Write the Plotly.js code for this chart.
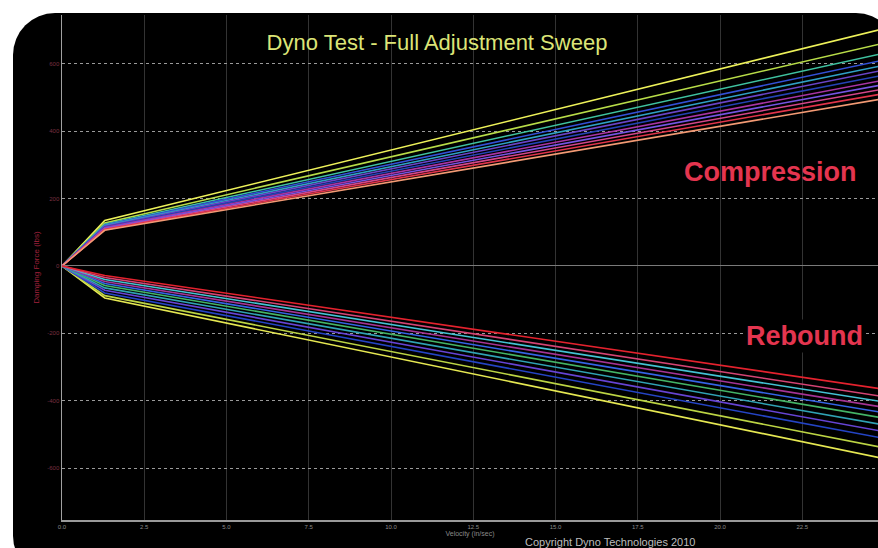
<!DOCTYPE html>
<html>
<head>
<meta charset="utf-8">
<script src="https://cdn.plot.ly/plotly-3.0.1.min.js"></script>
<style>
html,body{margin:0;padding:0;background:#ffffff;width:878px;height:548px;overflow:hidden;}
#frame{position:absolute;left:13px;top:13px;width:885px;height:565px;background:#000;border-radius:42px;}
#chart{position:absolute;left:0;top:0;width:878px;height:548px;}
</style>
</head>
<body>
<div id="frame"></div>
<div id="chart"></div>
<script>
// velocity points (in/sec): origin, knee, far end
const velocity = [0, 1.3, 25];
const xTickVals = [0, 2.5, 5, 7.5, 10, 12.5, 15, 17.5, 20, 22.5];
const xTickText = ["0.0", "2.5", "5.0", "7.5", "10.0", "12.5", "15.0", "17.5", "20.0", "22.5"];
const yTickVals = [-600, -400, -200, 0, 200, 400, 600];
const yTickText = ["-600", "-400", "-200", "0", "200", "400", "600"];

// compression sweep (force, lbs)
const compNames = ["C1","C2","C3","C4","C5","C6","C7","C8","C9","C10","C11","C12"];
const compForces = [
  [0, 135, 705],
  [0, 128, 662],
  [0, 124, 632],
  [0, 122, 612],
  [0, 120, 596],
  [0, 118, 582],
  [0, 116, 567],
  [0, 114, 552],
  [0, 112, 539],
  [0, 110, 526],
  [0, 108, 512],
  [0, 106, 497]
];
const compColors = ["#eef25a","#b8dc48","#3fc2a0","#3350d6","#2fa0c4","#6a44c8","#2442b4","#a834a4","#7654e2","#d4468a","#e2344a","#f39a74"];

// rebound sweep (force, lbs)
const rebNames = ["R1","R2","R3","R4","R5","R6","R7","R8","R9","R10","R11"];
const rebForces = [
  [0, -95, -572],
  [0, -88, -540],
  [0, -80, -512],
  [0, -72, -492],
  [0, -65, -472],
  [0, -58, -452],
  [0, -52, -436],
  [0, -46, -420],
  [0, -40, -404],
  [0, -34, -388],
  [0, -28, -366]
];
const rebColors = ["#e6e852","#bcd444","#2444c4","#6644d4","#30a2b4","#44b466","#3464e4","#a43494","#44c2d4","#d44474","#e4222e"];

const traces = [];
compForces.forEach((f, i) => traces.push({
  x: velocity, y: f, type: "scatter", mode: "lines", name: compNames[i],
  line: {color: compColors[i], width: 1.6}, hoverinfo: "skip"
}));
rebForces.forEach((f, i) => traces.push({
  x: velocity, y: f, type: "scatter", mode: "lines", name: rebNames[i],
  line: {color: rebColors[i], width: 1.6}, hoverinfo: "skip"
}));

const layout = {
  width: 878, height: 548,
  margin: {l: 62, r: 0, t: 15, b: 28},
  paper_bgcolor: "rgba(0,0,0,0)",
  plot_bgcolor: "rgba(0,0,0,0)",
  showlegend: false,
  font: {family: "Liberation Sans, Arial, sans-serif"},
  title: {
    text: "Dyno Test - Full Adjustment Sweep",
    font: {color: "#dce577", size: 22, family: "Liberation Sans, Arial, sans-serif"},
    x: (437)/878, xanchor: "center", y: 1 - 42/548, yanchor: "middle", yref: "container"
  },
  xaxis: {
    range: [0, 24.8],
    tickvals: xTickVals, ticktext: xTickText,
    tickfont: {color: "#8a8a8a", size: 6},
    showgrid: true, gridcolor: "#333333", gridwidth: 1,
    showline: true, linecolor: "#9a9a9a", linewidth: 1.5,
    zeroline: false, ticks: "", ticklen: 0,
    title: {text: "Velocity (in/sec)", font: {color: "#8a8a8a", size: 7}, standoff: 2}
  },
  yaxis: {
    range: [-754, 745],
    tickvals: yTickVals, ticktext: yTickText,
    tickfont: {color: "#7a3040", size: 6},
    showgrid: true, gridcolor: "#9a9a9a", gridwidth: 1, griddash: "dot",
    showline: true, linecolor: "#a0a0a0", linewidth: 1.5,
    zeroline: true, zerolinecolor: "#7a7a7a", zerolinewidth: 1,
    ticks: "",
    title: {text: "Damping Force (lbs)", font: {color: "#a0203c", size: 8}, standoff: 6}
  },
  annotations: [
    {text: "<b>Compression</b>", xref: "paper", yref: "paper", x: (770-62)/816, y: 1 - (172-15)/505,
     xanchor: "center", yanchor: "middle", showarrow: false,
     font: {color: "#e4354f", size: 27, family: "Liberation Sans, Arial, sans-serif"}},
    {text: "<b>Rebound</b>", xref: "paper", yref: "paper", x: (804-62)/816, y: 1 - (336-15)/505,
     xanchor: "center", yanchor: "middle", showarrow: false, bgcolor: "#000000",
     font: {color: "#e4354f", size: 27, family: "Liberation Sans, Arial, sans-serif"}},
    {text: "Copyright Dyno Technologies 2010", xref: "paper", yref: "paper", x: (610-62)/816, y: 0,
     xanchor: "center", yanchor: "top", yshift: -14, showarrow: false,
     font: {color: "#bdbdbd", size: 11}}
  ]
};

Plotly.newPlot("chart", traces, layout, {displayModeBar: false, staticPlot: true});
</script>
</body>
</html>
